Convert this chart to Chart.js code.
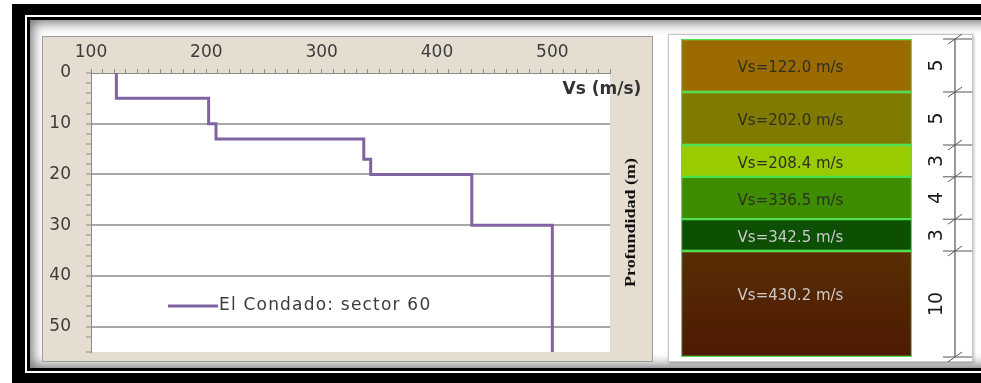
<!DOCTYPE html>
<html>
<head>
<title>Perfil Vs - El Condado</title>
<script src="https://cdn.jsdelivr.net/npm/chart.js"></script>
<style>
  html, body { margin: 0; padding: 0; }
  body { width: 981px; height: 383px; overflow: hidden; position: relative; background: #fff; }
  .caja { position: absolute; box-sizing: border-box; }
  #negro { left: 12px; top: 4px; width: 1000px; height: 400px; background: #000; }
  #blanco { left: 25px; top: 15px; width: 1000px; height: 358px; background: #fff; }
  #interior { left: 27px; top: 17px; width: 1000px; height: 354px; border: 3px solid #000; background: #fff; box-shadow: inset 0 0 12px 3px rgba(0,0,0,0.55); }
  #panelIzq { left: 42px; top: 36px; width: 611px; height: 326px; border: 1px solid #9c9c9c; background: #e5ddd0; }
  #panelDer { left: 668px; top: 34px; width: 305px; height: 328px; border: 1px solid #c4c4c4; background: #fff; box-shadow: 1px 1px 3px rgba(0,0,0,0.25); }
  canvas { position: absolute; }
  #perfil { left: 42px; top: 36px; }
  #columna { left: 668px; top: 34px; }
</style>
</head>
<body>
<div class="caja" id="negro"></div>
<div class="caja" id="blanco"></div>
<div class="caja" id="interior"></div>
<div class="caja" id="panelIzq"></div>
<div class="caja" id="panelDer"></div>
<canvas id="perfil" width="611" height="326"></canvas>
<canvas id="columna" width="305" height="328"></canvas>

<script>
// Perfil de velocidades (escalonado)
const profDepths = [0, 5, 10, 13, 17, 20, 30, 55];
const profVs = [122, 202, 208.4, 336.5, 342.5, 430.2, 500];
const xTicks = [100, 200, 300, 400, 500];
const yTicks = [0, 10, 20, 30, 40, 50];
const serieNombre = 'El Condado: sector 60';

// Columna de capas
const capaEspesor = [5, 5, 3, 4, 3, 10];
const capaVs = [122.0, 202.0, 208.4, 336.5, 342.5, 430.2];
const capaColor = ['#9b6b00', '#807a00', '#99cc00', '#3e8c00', '#0d5003', '#582a04'];

const fuente = '"DejaVu Sans", sans-serif';
const gris = '#8a8a8a';

// puntos del escalon
const pasos = [];
profVs.forEach((v, i) => {
    pasos.push({x: v, y: profDepths[i]}, {x: v, y: profDepths[i + 1]});
});

const fondoBlanco = {
    id: 'fondoBlanco',
    beforeDraw(chart) {
        const {ctx, chartArea: a} = chart;
        ctx.save();
        ctx.fillStyle = '#fff';
        ctx.fillRect(a.left, a.top, a.right - a.left, a.bottom - a.top);
        ctx.restore();
    }
};

const textosPerfil = {
    id: 'textosPerfil',
    afterDraw(chart) {
        const {ctx, chartArea: a} = chart;
        ctx.save();
        // titulo eje x
        ctx.fillStyle = '#333';
        ctx.font = 'bold 17px ' + fuente;
        ctx.textAlign = 'center';
        ctx.textBaseline = 'middle';
        ctx.fillText('Vs (m/s)', a.right - 8, a.top + 17);

        // titulo eje y (a la derecha, girado)
        ctx.save();
        ctx.translate(a.right + 21, (a.top + a.bottom) / 2 + 10);
        ctx.rotate(-Math.PI / 2);
        ctx.font = 'bold 15px "Liberation Serif", serif';
        ctx.fillStyle = '#111';
        const w = ctx.measureText('Profundidad (m)').width;
        ctx.scale(129 / w, 1);
        ctx.fillText('Profundidad (m)', 0, 0);
        ctx.restore();

        // leyenda
        const ds = chart.data.datasets[0];
        const ly = a.top + 233;
        ctx.strokeStyle = ds.borderColor;
        ctx.lineWidth = 3;
        ctx.beginPath();
        ctx.moveTo(a.left + 77, ly);
        ctx.lineTo(a.left + 127, ly);
        ctx.stroke();
        ctx.fillStyle = '#3c3c3c';
        ctx.font = '17px ' + fuente;
        ctx.letterSpacing = '1.2px';
        ctx.textAlign = 'left';
        ctx.fillText(ds.label, a.left + 128, ly);
        ctx.restore();
    }
};

new Chart(document.getElementById('perfil'), {
    type: 'scatter',
    data: {
        datasets: [{
            label: serieNombre,
            data: pasos,
            showLine: true,
            borderColor: '#8064a2',
            borderWidth: 3,
            pointRadius: 0,
            fill: false,
            tension: 0
        }]
    },
    options: {
        responsive: false,
        animation: false,
        layout: { padding: { left: 0, right: 43, top: 0, bottom: 10 } },
        plugins: { legend: { display: false }, tooltip: { enabled: false } },
        scales: {
            x: {
                type: 'linear', position: 'top', min: 100, max: 550,
                afterFit: s => { s.height = 37; s.paddingLeft = 0; s.paddingRight = 0; },
                ticks: {
                    stepSize: 10, autoSkip: false, maxRotation: 0, padding: 6,
                    color: '#3c3c3c', font: { family: fuente, size: 17 },
                    callback: v => xTicks.includes(v) ? v : ''
                },
                grid: { drawOnChartArea: false, tickLength: 4, tickColor: gris },
                border: { color: gris }
            },
            y: {
                type: 'linear', reverse: true, min: 0, max: 55,
                afterFit: s => { s.width = 49; s.paddingTop = 0; s.paddingBottom = 0; },
                ticks: {
                    stepSize: 2, autoSkip: false, padding: 15,
                    color: '#3c3c3c', font: { family: fuente, size: 17 },
                    callback: v => yTicks.includes(v) ? v : ''
                },
                grid: {
                    color: c => (c.tick && c.tick.value > 0 && yTicks.includes(c.tick.value)) ? '#a8a8a8' : 'rgba(0,0,0,0)',
                    lineWidth: 2, tickWidth: 1, tickLength: 5, tickColor: gris
                },
                border: { color: gris }
            }
        }
    },
    plugins: [fondoBlanco, textosPerfil]
});

// ---- columna estratigrafica ----
const rotulosCapas = {
    id: 'rotulosCapas',
    afterDatasetsDraw(chart) {
        const ctx = chart.ctx;
        ctx.save();
        ctx.font = '15px ' + fuente;
        ctx.textAlign = 'center';
        ctx.textBaseline = 'middle';
        chart.data.datasets.forEach((ds, i) => {
            const bar = chart.getDatasetMeta(i).data[0];
            const top = Math.min(bar.y, bar.base);
            const h = Math.abs(bar.base - bar.y);
            ctx.fillStyle = i >= 4 ? '#c9c9c9' : '#2e2e22';
            ctx.fillText(ds.label, bar.x - 6, top + Math.min(h / 2, 42) + 3);
        });
        ctx.restore();
    }
};

const escalaProf = {
    id: 'escalaProf',
    afterDraw(chart) {
        const {ctx, chartArea: a} = chart;
        const y = chart.scales.y;
        const x = a.right + 43;
        ctx.save();
        ctx.strokeStyle = '#777';
        ctx.lineWidth = 1.5;
        ctx.beginPath();
        ctx.moveTo(x, a.top);
        ctx.lineTo(x, a.bottom);
        ctx.stroke();
        let d = 0;
        const bordes = [0];
        capaEspesor.forEach(e => { d += e; bordes.push(d); });
        ctx.strokeStyle = '#555';
        ctx.lineWidth = 1;
        bordes.forEach(b => {
            const py = y.getPixelForValue(b);
            ctx.beginPath();
            ctx.moveTo(x - 12, py);
            ctx.lineTo(x + 17, py);
            ctx.moveTo(x - 7, py + 5);
            ctx.lineTo(x + 7, py - 5);
            ctx.stroke();
        });
        ctx.fillStyle = '#1a1a1a';
        ctx.font = '19px ' + fuente;
        ctx.textAlign = 'center';
        ctx.textBaseline = 'middle';
        capaEspesor.forEach((e, i) => {
            const py = (y.getPixelForValue(bordes[i]) + y.getPixelForValue(bordes[i + 1])) / 2;
            ctx.save();
            ctx.translate(a.right + 25, py);
            ctx.rotate(-Math.PI / 2);
            ctx.fillText(String(e), 0, 0);
            ctx.restore();
        });
        ctx.restore();
    }
};

const ultima = capaEspesor.length - 1;
new Chart(document.getElementById('columna'), {
    type: 'bar',
    data: {
        labels: ['Perfil'],
        datasets: capaEspesor.map((e, i) => ({
            label: 'Vs=' + capaVs[i].toFixed(1) + ' m/s',
            data: [e],
            backgroundColor: i < ultima ? capaColor[i] : (c => {
                const a = c.chart.chartArea;
                if (!a) return capaColor[i];
                const sy = c.chart.scales.y;
                const g = c.chart.ctx.createLinearGradient(0, sy.getPixelForValue(20), 0, a.bottom);
                g.addColorStop(0, '#5a2d04');
                g.addColorStop(1, '#4c1a02');
                return g;
            }),
            borderColor: '#4fe04f',
            borderWidth: 1.5,
            borderSkipped: false,
            barPercentage: 1,
            categoryPercentage: 1
        }))
    },
    options: {
        responsive: false,
        animation: false,
        layout: { padding: { left: 13, right: 61, top: 5, bottom: 5 } },
        plugins: { legend: { display: false }, tooltip: { enabled: false } },
        scales: {
            x: { stacked: true, display: false },
            y: { stacked: true, display: false, reverse: true, min: 0, max: 30 }
        }
    },
    plugins: [rotulosCapas, escalaProf]
});
</script>
</body>
</html>
